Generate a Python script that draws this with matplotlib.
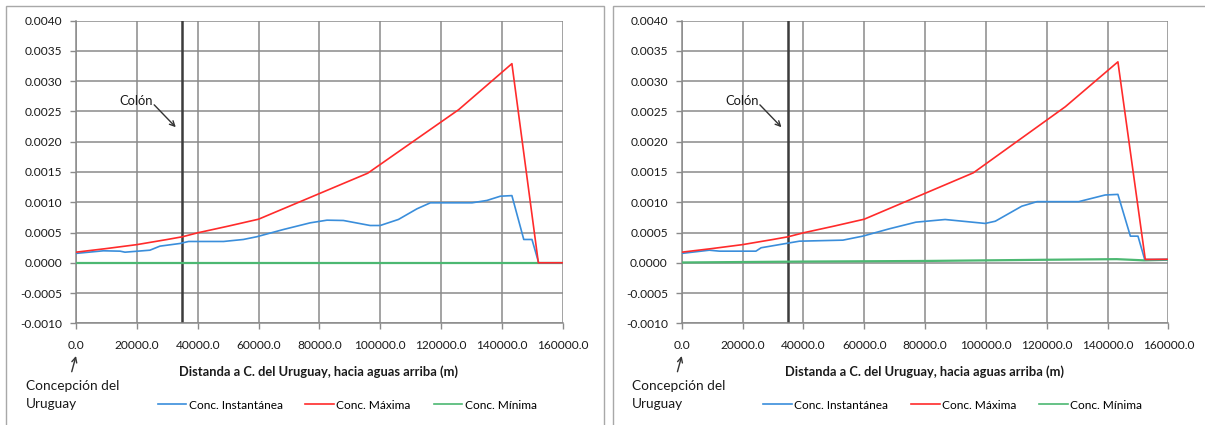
import matplotlib
matplotlib.use("Agg")
import matplotlib.pyplot as plt
from matplotlib.ticker import FormatStrFormatter, MultipleLocator
from matplotlib.patches import Rectangle
from matplotlib.lines import Line2D

plt.rcParams['font.family'] = ['Lato', 'DejaVu Sans']

# ---- data: left panel ----
x_max_L = [0, 10000, 20000, 30000, 35000, 40000, 50000, 60000, 95900, 125800, 143300, 152000, 160000]
y_max_L = [0.000175, 0.000235, 0.000300, 0.000385, 0.000430, 0.000495, 0.000605, 0.000720,
           0.001480, 0.002530, 0.003290, 0.0, 0.0]
x_ins_L = [0, 9000, 14500, 16100, 24300, 27600, 34200, 37000, 48500, 55000, 59400, 68200,
           77000, 82500, 87900, 96700, 100000, 106000, 112100, 116500, 130200, 135100,
           139500, 143300, 147200, 149900, 152100, 160000]
y_ins_L = [0.000155, 0.000198, 0.000192, 0.000175, 0.000208, 0.000275, 0.000319, 0.000352,
           0.000352, 0.000385, 0.000430, 0.000550, 0.000660, 0.000704, 0.000699, 0.000616,
           0.000616, 0.000716, 0.000892, 0.000991, 0.000991, 0.001030, 0.001100, 0.001110,
           0.000385, 0.000385, 0.0, 0.0]
x_min_L = [0, 160000]
y_min_L = [0.0, 0.0]

# ---- data: right panel ----
x_max_R = [0, 10000, 20000, 30000, 35000, 40000, 50000, 60000, 95900, 126100, 143400, 152400, 160000]
y_max_R = [0.000175, 0.000235, 0.000300, 0.000385, 0.000430, 0.000495, 0.000605, 0.000720,
           0.001487, 0.002578, 0.003320, 0.000055, 0.000058]
x_ins_R = [0, 9100, 12400, 24400, 26100, 34300, 38700, 53000, 59500, 68300, 77000, 86600,
           99800, 103100, 111800, 116800, 130500, 139200, 143400, 147500, 150000, 152200, 160000]
y_ins_R = [0.000155, 0.000208, 0.000192, 0.000192, 0.000248, 0.000319, 0.000357, 0.000374,
           0.000440, 0.000562, 0.000671, 0.000715, 0.000650, 0.000687, 0.000935, 0.001010,
           0.001010, 0.001120, 0.001130, 0.000440, 0.000440, 0.000055, 0.000055]
x_min_R = [0, 40000, 80000, 120000, 143000, 152000, 160000]
y_min_R = [0.000005, 0.000020, 0.000030, 0.000050, 0.000060, 0.000040, 0.000050]

colon_x = 35000
legend_labels = ['Conc. Instantánea', 'Conc. Máxima', 'Conc. Mínima']
x_label = 'Distanda a C. del Uruguay, hacia aguas arriba (m)'

C_INS = '#3a8edb'
C_MAX = '#ff2b2b'
C_MIN = '#4cb872'
GRID = '#8a8a8a'
FS = 8.6

W, H = 1205, 425
fig = plt.figure(figsize=(W / 100, H / 100), dpi=100)
fig.patch.set_facecolor('white')

# panel borders
for (x0, x1) in [(6, 604), (612.5, 1215)]:
    fig.patches.append(Rectangle((x0 / W, -0.05), (x1 - x0) / W, (H - 6) / H + 0.05,
                                 transform=fig.transFigure, fill=False,
                                 edgecolor='#a8a8a8', lw=1.0))

panels = [
    (76, x_ins_L, y_ins_L, x_max_L, y_max_L, x_min_L, y_min_L),
    (681.7, x_ins_R, y_ins_R, x_max_R, y_max_R, x_min_R, y_min_R),
]

for (lpx, xi, yi, xm, ym, xn, yn) in panels:
    ax = fig.add_axes([lpx / W, (H - 323.3) / H, 486.7 / W, 302.6 / H])
    ax.set_xlim(0, 160000)
    ax.set_ylim(-0.0010, 0.0040)
    ax.xaxis.set_major_locator(MultipleLocator(20000))
    ax.yaxis.set_major_locator(MultipleLocator(0.0005))
    ax.xaxis.set_major_formatter(FormatStrFormatter('%.1f'))
    ax.yaxis.set_major_formatter(FormatStrFormatter('%.4f'))
    ax.grid(True, color=GRID, lw=1.1)
    ax.set_axisbelow(True)
    for s in ['top', 'right']:
        ax.spines[s].set_visible(False)
    for s in ['left', 'bottom']:
        ax.spines[s].set_color(GRID)
        ax.spines[s].set_linewidth(1.1)
    ax.tick_params(axis='both', direction='out', length=4, width=1, color=GRID,
                   labelsize=FS, labelcolor='#1a1a1a')
    ax.tick_params(axis='y', pad=6)
    ax.tick_params(axis='x', pad=8)

    ax.axvline(colon_x, color='#3c3c3c', lw=1.8, zorder=2)

    ax.plot(xn, yn, color=C_MIN, lw=1.6, zorder=3)
    ax.plot(xi, yi, color=C_INS, lw=1.2, zorder=4)
    ax.plot(xm, ym, color=C_MAX, lw=1.2, zorder=5)

    ax.text(19740, 0.00268, 'Colón', fontsize=FS + 0.8, ha='center', va='center',
            color='#1a1a1a')
    ax.annotate('', xy=(32800, 0.00224), xytext=(25700, 0.00261),
                arrowprops=dict(arrowstyle='->', color='#333333', lw=1.0,
                                shrinkA=0, shrinkB=0, mutation_scale=9))
    ax.annotate('', xy=(0, -0.00154), xytext=(-1400, -0.00180),
                annotation_clip=False,
                arrowprops=dict(arrowstyle='->', color='#333333', lw=1.0,
                                shrinkA=0, shrinkB=0, mutation_scale=9))
    ax.text(-16450, -0.00204, 'Concepción del', fontsize=FS + 1.2, ha='left', va='center',
            color='#1a1a1a', clip_on=False)
    ax.text(-16450, -0.00234, 'Uruguay', fontsize=FS + 1.2, ha='left', va='center',
            color='#1a1a1a', clip_on=False)

    ax.text(0.4985, -0.16, x_label, transform=ax.transAxes, ha='center', va='center',
            fontsize=9.3, fontweight='bold', color='#1a1a1a')

    handles = [Line2D([], [], color=c, lw=1.2) for c in (C_INS, C_MAX, C_MIN)]
    ax.legend(handles, legend_labels, loc='center', bbox_to_anchor=(0.557, -0.27),
              ncol=3, frameon=False, fontsize=FS, handlelength=2.4,
              handletextpad=0.2, columnspacing=1.9, borderaxespad=0)

fig.savefig('out.png', dpi=100, facecolor='white')
